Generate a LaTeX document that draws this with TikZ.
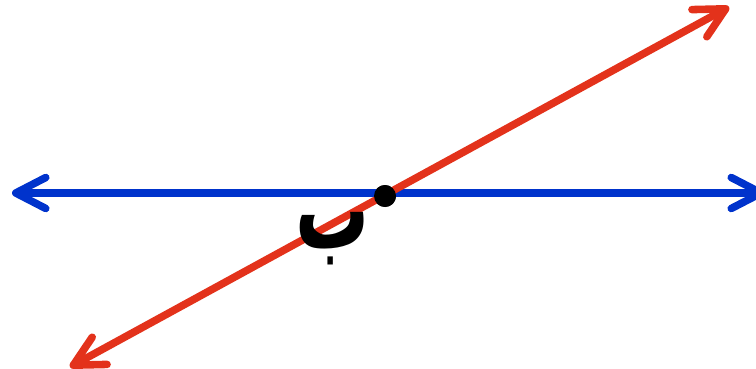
\documentclass[tikz,border=0pt]{standalone}
\usepackage{fontspec}
\newfontfamily\arabicfont[Script=Arabic]{DejaVu Sans}
\TeXXeTstate=1
\definecolor{lineRed}{HTML}{E3321B}
\definecolor{lineBlue}{HTML}{0033CC}
\usetikzlibrary{positioning,arrows.meta}

\begin{document}
\begin{tikzpicture}[x=0.02cm, y=-0.02cm, line width=4.3pt]
\useasboundingbox (0,0) rectangle (756,368);
\coordinate (blueL) at (12,193);
\coordinate (blueR) at (765,193);
\coordinate (redL) at (70,367);
\coordinate (redR) at (729,7);
\node[circle, fill=black, inner sep=0pt, minimum size=0.44cm] (P) at (385,196) {};
\draw[{Straight Barb[length=0.6cm, width=0.62cm, round]}-{Straight Barb[length=0.6cm, width=0.62cm, round]}, lineBlue] (blueL) -- (blueR);
\draw[{Straight Barb[length=0.6cm, width=0.62cm, round]}-{Straight Barb[length=0.6cm, width=0.62cm, round]}, lineRed] (redL) -- (redR);
\node[circle, fill=black, inner sep=0pt, minimum size=0.44cm] at (P) {};
\node[font=\fontsize{42}{50}\selectfont\arabicfont\bfseries] (lblB) at (333,239) {\scalebox{1}[1.5]{\beginR ب\endR}};
\end{tikzpicture}
\end{document}
